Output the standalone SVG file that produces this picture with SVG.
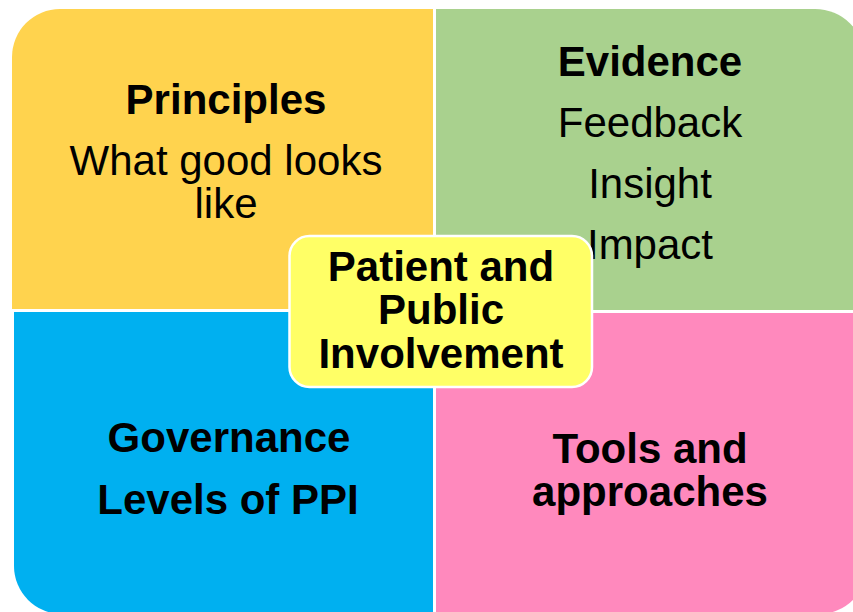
<svg xmlns="http://www.w3.org/2000/svg" width="853" height="612" viewBox="0 0 853 612">
<style>
  text { font-family: "Liberation Sans", Arial, sans-serif; font-size: 42px; fill: #000; text-anchor: middle; }
  .b { font-weight: bold; }
</style>
<rect width="853" height="612" fill="#ffffff"/>
<g id="principles">
  <path d="M12,309 L12,57 A48,48 0 0 1 60,9 L433,9 L433,309 Z" fill="#FFD34E"/>
  <text class="b" x="226" y="114">Principles</text>
  <text x="226" y="175">What good looks</text>
  <text x="226" y="218">like</text>
</g>
<g id="evidence">
  <path d="M436,9 L815,9 A50,50 0 0 1 865,59 L865,310 L436,310 Z" fill="#A9D18E"/>
  <text class="b" x="650" y="76">Evidence</text>
  <text x="650" y="137">Feedback</text>
  <text x="650" y="198">Insight</text>
  <text x="650" y="259">Impact</text>
</g>
<g id="governance">
  <path d="M14,312 L433,312 L433,614 L62,614 A48,48 0 0 1 14,566 Z" fill="#00B0F0"/>
  <text class="b" x="229" y="452">Governance</text>
  <text class="b" x="228" y="514">Levels of PPI</text>
</g>
<g id="tools">
  <path d="M436,313 L867,313 L867,566 A48,48 0 0 1 819,614 L436,614 Z" fill="#FF89BD"/>
  <text class="b" x="650" y="463">Tools and</text>
  <text class="b" x="650" y="506">approaches</text>
</g>
<g id="connectors"></g>
<g id="ppi">
  <rect x="289.5" y="236" width="302.5" height="151" rx="20" ry="20" fill="#FFFF66" stroke="#ffffff" stroke-width="2.5"/>
  <text class="b" x="441" y="281">Patient and</text>
  <text class="b" x="441" y="324">Public</text>
  <text class="b" x="441" y="368">Involvement</text>
</g>
</svg>
